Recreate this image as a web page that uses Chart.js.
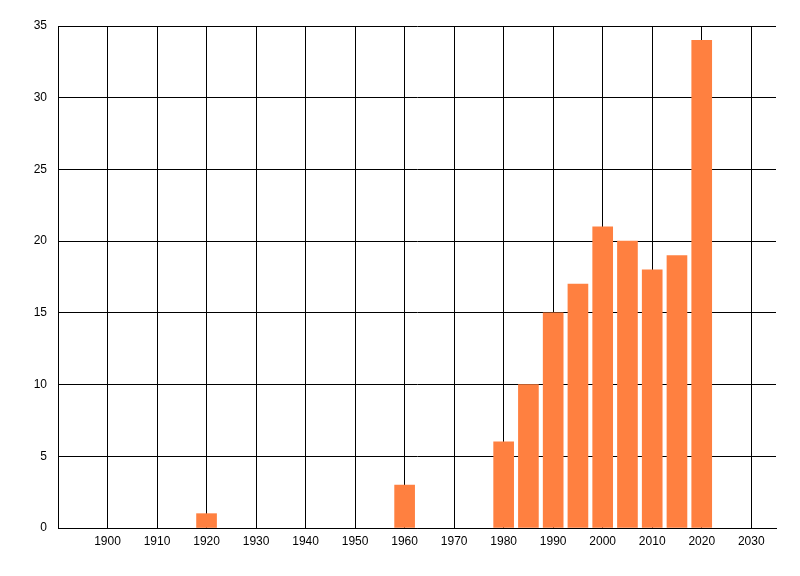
<!DOCTYPE html>
<html>
<head>
<meta charset="utf-8">
<script src="https://cdn.jsdelivr.net/npm/chart.js@4"></script>
<style>
  body { margin: 0; background: #fff; }
  #wrap { width: 800px; height: 576px; }
</style>
</head>
<body>
<div id="wrap"><canvas id="barChart" width="800" height="576"></canvas></div>
<script>
const years = [1920, 1960, 1980, 1985, 1990, 1995, 2000, 2005, 2010, 2015, 2020];
const counts = [1, 3, 6, 10, 15, 17, 21, 20, 18, 19, 34];
const xTicks = [1900, 1910, 1920, 1930, 1940, 1950, 1960, 1970, 1980, 1990, 2000, 2010, 2020, 2030];
const yTicks = [0, 5, 10, 15, 20, 25, 30, 35];

document.addEventListener("DOMContentLoaded", function () {
  const ctx = document.getElementById("barChart").getContext("2d");
  new Chart(ctx, {
    type: "bar",
    data: {
      datasets: [
        {
          label: "Count",
          data: years.map((y, i) => ({ x: y, y: counts[i] })),
          backgroundColor: "rgb(255, 128, 64)",
          borderWidth: 0,
          barThickness: 20,
        },
      ],
    },
    options: {
      responsive: false,
      animation: false,
      layout: { padding: { left: 0, right: 24, top: 26, bottom: 0 } },
      plugins: {
        legend: { display: false },
        tooltip: { enabled: false },
      },
      scales: {
        x: {
          type: "linear",
          min: 1890,
          max: 2035,
          offset: false,
          afterBuildTicks: (axis) => {
            axis.ticks = xTicks.map((v) => ({ value: v }));
          },
          afterFit: (axis) => {
            axis.height = 48;
          },
          grid: {
            color: "#000",
            lineWidth: 1,
            drawTicks: false,
            offset: false,
          },
          border: { color: "#000", width: 1 },
          ticks: {
            color: "#000",
            padding: 6,
            maxRotation: 0,
            autoSkip: false,
            font: { family: "Liberation Sans", size: 12 },
            callback: (v) => String(v),
          },
        },
        y: {
          min: 0,
          max: 35,
          afterBuildTicks: (axis) => {
            axis.ticks = yTicks.map((v) => ({ value: v }));
          },
          afterFit: (axis) => {
            axis.width = 58;
          },
          grid: {
            color: "#000",
            lineWidth: 1,
            drawTicks: false,
          },
          border: { color: "#000", width: 1 },
          ticks: {
            color: "#000",
            padding: 11,
            font: { family: "Liberation Sans", size: 12 },
          },
        },
      },
    },
  });
});
</script>
</body>
</html>
